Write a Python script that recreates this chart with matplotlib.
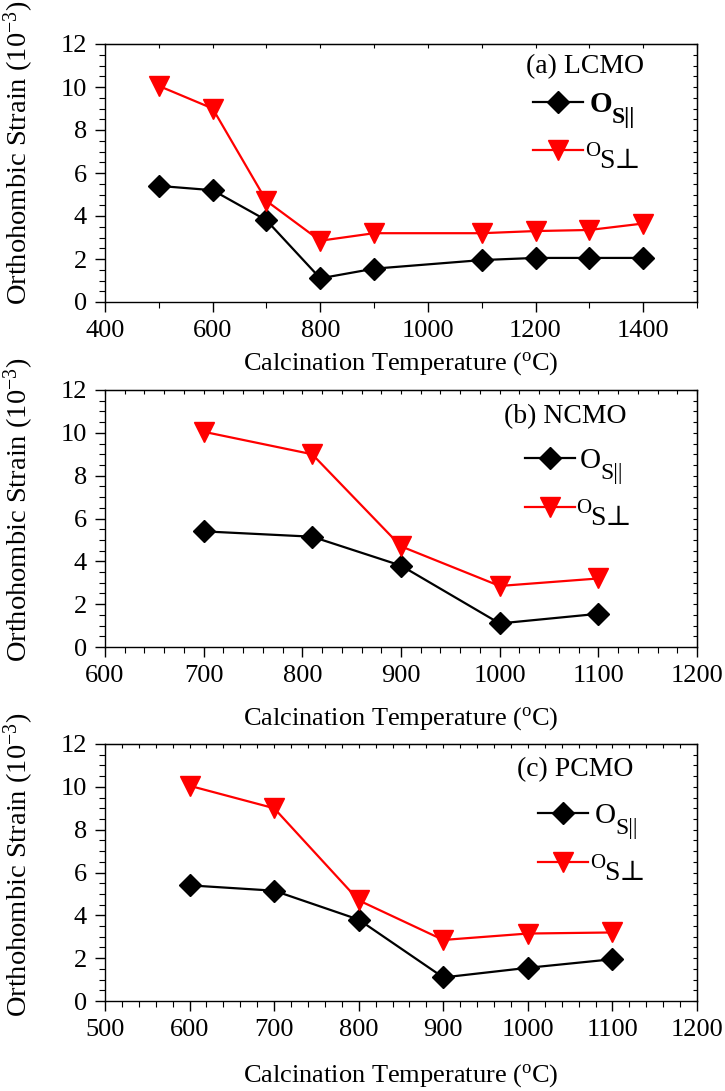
import matplotlib
matplotlib.use("Agg")
import matplotlib.pyplot as plt
from matplotlib.ticker import MultipleLocator
from matplotlib.lines import Line2D

plt.rcParams['font.family'] = ['Liberation Serif', 'DejaVu Serif']
plt.rcParams['mathtext.fontset'] = 'custom'
plt.rcParams['mathtext.rm'] = 'Liberation Serif'
plt.rcParams['mathtext.it'] = 'Liberation Serif:italic'
plt.rcParams['mathtext.bf'] = 'Liberation Serif:bold'

# Panel (a) LCMO
temp_a = [500, 600, 700, 800, 900, 1100, 1200, 1300, 1400]
par_a = [5.4, 5.2, 3.8, 1.1, 1.55, 1.95, 2.05, 2.05, 2.05]
perp_a = [10.05, 9.0, 4.7, 2.85, 3.2, 3.2, 3.3, 3.35, 3.65]

# Panel (b) NCMO
temp_b = [700, 810, 900, 1000, 1100]
par_b = [5.4, 5.15, 3.8, 1.1, 1.55]
perp_b = [10.05, 9.0, 4.7, 2.85, 3.2]

# Panel (c) PCMO
temp_c = [600, 700, 800, 900, 1000, 1100]
par_c = [5.4, 5.15, 3.8, 1.1, 1.55, 1.95]
perp_c = [10.05, 9.0, 4.7, 2.85, 3.15, 3.2]

titles = ['(a) LCMO', '(b) NCMO', '(c) PCMO']
xlims = [(400, 1500), (600, 1200), (500, 1200)]
xmajor = [200, 100, 100]
xminor = [100, 20, 20]
ylabel = r'Orthohombic Strain (10$^{-3}$)'
xlabel = r'Calcination Temperature ($^{\mathrm{o}}$C)'
legend_main = 'O'
par_sub = 'S||'
perp_sub = 'S\u22a5'
legend_bold = ['bold', 'normal', 'normal']

W, H = 725, 1091
fig = plt.figure(figsize=(W / 100, H / 100), dpi=100)

# layout (pixel boxes of the axes: left, top, right, bottom)
boxes = [(105, 44, 697, 302), (105, 390, 697, 647), (105, 744, 697, 1001)]
xlabel_pad = [6, 13, 15]
ylabel_y = [0.58, 0.535, 0.53]
# legend layout in pixels: line x0, line x1, black y, red y, black text x, red text x, title x, title y
leg_px = [(533, 583, 102, 150, 590, 585, 585, 67),
          (525, 575, 458, 507, 580, 576, 565, 417),
          (538, 588, 813, 862, 595, 590, 575, 770)]

datasets = [(temp_a, par_a, perp_a), (temp_b, par_b, perp_b), (temp_c, par_c, perp_c)]

BLACK_KW = dict(color='black', marker='D', markersize=11, lw=1.6,
                markerfacecolor='black', markeredgecolor='black')
RED_KW = dict(color='#ff0000', marker='v', markersize=15, lw=1.6,
              markerfacecolor='#ff0000', markeredgecolor='#ff0000')


def fy(py):
    return 1 - py / H


for i, ((x0, y0, x1, y1), (t, p, q)) in enumerate(zip(boxes, datasets)):
    ax = fig.add_axes([x0 / W, 1 - y1 / H, (x1 - x0) / W, (y1 - y0) / H])
    ax.plot(t, p, **BLACK_KW)
    ax.plot(t, q, **RED_KW)
    ax.set_xlim(*xlims[i])
    ax.set_ylim(0, 12)
    ax.xaxis.set_major_locator(MultipleLocator(xmajor[i]))
    ax.xaxis.set_minor_locator(MultipleLocator(xminor[i]))
    ax.yaxis.set_major_locator(MultipleLocator(2))
    ax.yaxis.set_minor_locator(MultipleLocator(0.5))
    ax.tick_params(which='major', direction='out', length=7, width=1.0, labelsize=19, pad=6)
    ax.tick_params(which='minor', direction='out', length=4, width=0.8)
    for s in ax.spines.values():
        s.set_linewidth(1.0)
    # inward ticks on top and right
    secx = ax.secondary_xaxis('top')
    secx.xaxis.set_major_locator(MultipleLocator(xmajor[i]))
    secx.xaxis.set_minor_locator(MultipleLocator(xminor[i]))
    secx.tick_params(which='both', direction='in', labeltop=False, length=3, width=0.8)
    secy = ax.secondary_yaxis('right')
    secy.yaxis.set_major_locator(MultipleLocator(2))
    secy.yaxis.set_minor_locator(MultipleLocator(0.5))
    secy.tick_params(which='both', direction='in', labelright=False, length=3, width=0.8)

    ax.set_ylabel(ylabel, fontsize=20.5)
    ax.yaxis.set_label_coords((36 - x0) / (x1 - x0), ylabel_y[i])
    ax.set_xlabel(xlabel, fontsize=19, labelpad=xlabel_pad[i])

    # title and legend (pixel layout -> figure fraction)
    lx0, lx1, by, ry, btx, rtx, tx, ty = leg_px[i]
    fig.text(tx / W, fy(ty), titles[i], fontsize=20, ha='center', va='center')
    for yy, kw in ((by, BLACK_KW), (ry, RED_KW)):
        fig.add_artist(Line2D([lx0 / W, lx1 / W], [fy(yy), fy(yy)],
                              transform=fig.transFigure, color=kw['color'], lw=kw['lw']))
        fig.add_artist(Line2D([(lx0 + lx1) / 2 / W], [fy(yy)], transform=fig.transFigure,
                              linestyle='none', marker=kw['marker'], markersize=kw['markersize'],
                              markerfacecolor=kw['markerfacecolor'],
                              markeredgecolor=kw['markeredgecolor']))
    # parallel entry: big O, subscript S||
    o1 = fig.text(btx / W, fy(by + 10), legend_main, fontsize=21, ha='left', va='baseline',
                  fontweight=legend_bold[i])
    ax.annotate(par_sub, xy=(1, fy(by + 21)), xycoords=(o1, 'figure fraction'),
                xytext=(-1, 0), textcoords='offset pixels', fontsize=17, ha='left',
                va='baseline', fontweight=legend_bold[i], annotation_clip=False)
    # perpendicular entry: small raised O, then S perp
    o2 = fig.text(rtx / W, fy(ry + 6), legend_main, fontsize=15, ha='left', va='baseline')
    ax.annotate(perp_sub, xy=(1, fy(ry + 18)), xycoords=(o2, 'figure fraction'),
                xytext=(-1, 0), textcoords='offset pixels', fontsize=20, ha='left',
                va='baseline', annotation_clip=False)

fig.savefig('out.png', dpi=100)
